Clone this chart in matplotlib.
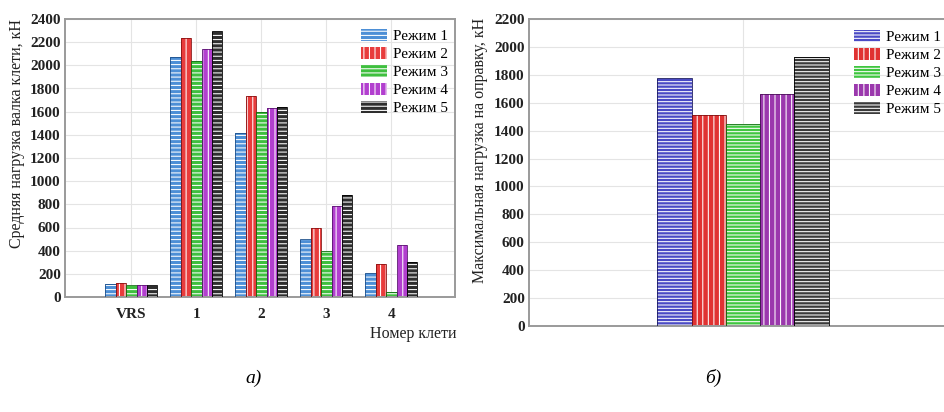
import matplotlib
matplotlib.use("Agg")
import matplotlib.pyplot as plt
import numpy as np

# ---- data ----
stands = ['VRS', '1', '2', '3', '4']
modes = ['Режим 1', 'Режим 2', 'Режим 3', 'Режим 4', 'Режим 5']
mode1 = [110, 2070, 1420, 505, 205]
mode2 = [120, 2235, 1735, 595, 285]
mode3 = [105, 2035, 1595, 400, 45]
mode4 = [105, 2140, 1630, 785, 450]
mode5 = [100, 2300, 1640, 880, 300]
mandrel_max = [1775, 1510, 1450, 1660, 1930]

left_yticks = list(range(0, 2401, 200))
right_yticks = list(range(0, 2201, 200))

plt.rcParams['font.family'] = ['Liberation Serif', 'DejaVu Serif']
plt.rcParams['hatch.linewidth'] = 0.75

W, H = 944, 412
fig = plt.figure(figsize=(W / 100, H / 100), dpi=100)

def ax_rect(l, t, r, b):
    return [l / W, 1 - b / H, (r - l) / W, (b - t) / H]

left_colors = ['#4d8fd6', '#e83c3c', '#3fbf3f', '#b23fcf', '#2e2e2e']
left_edges = ['#1d4f8a', '#8a1010', '#157015', '#5a1470', '#000000']
right_colors = ['#4a4ac4', '#e03232', '#3fc63f', '#9b38ad', '#3a3a3a']
right_edges = ['#18185e', '#801010', '#137013', '#4a1058', '#000000']
hatch_l = ['----', '|||', '----', '|||', '----']
hatch_r = ['-----', '|||', '-----', '|||', '-----']

series = [mode1, mode2, mode3, mode4, mode5]
bw = 0.16
grid_c = '#e4e4e4'
spine_c = '#9a9a9a'

def style_axes(ax):
    for s in ax.spines.values():
        s.set_color(spine_c)
        s.set_linewidth(1.4)
    ax.tick_params(length=0, labelsize=11, pad=3, labelcolor='#222222')
    ax.grid(True, color=grid_c, linewidth=0.8)
    ax.set_axisbelow(True)

def draw_bars(ax, x, vals, color, edge, hatch):
    ax.bar(x, vals, bw, color=color, edgecolor='white', linewidth=0, hatch=hatch, zorder=2)
    ax.bar(x, vals, bw, fill=False, edgecolor=edge, linewidth=0.6, zorder=3)

leg_kw = dict(frameon=False, fontsize=11, borderpad=0, labelspacing=0.24,
              handlelength=1.75, handleheight=0.85)

# ---- left chart ----
axL = fig.add_axes(ax_rect(65, 19, 455, 297))
pos = np.arange(len(stands))
handles = []
for i, vals in enumerate(series):
    draw_bars(axL, pos + (i - 2) * bw, vals, left_colors[i], left_edges[i], hatch_l[i])
    handles.append(matplotlib.patches.Patch(facecolor=left_colors[i], edgecolor='white',
                                            hatch=hatch_l[i], linewidth=0))
axL.set_xlim(-1.02, 4.98)
axL.set_ylim(0, 2400)
axL.set_yticks(left_yticks)
axL.set_xticks(pos)
axL.set_xticklabels(stands)
style_axes(axL)
axL.tick_params(axis='x', pad=8)
for lab in axL.get_yticklabels() + axL.get_xticklabels():
    lab.set_fontweight('bold')
fig.text(413 / W, 1 - 334 / H, 'Номер клети', ha='center', va='center', fontsize=11.5, color='#222222')
fig.text(17 / W, 1 - 133 / H, 'Средняя нагрузка валка клети, кН', rotation=90,
         ha='center', va='center', fontsize=11.5, color='#222222')
fig.legend(handles, modes, loc='upper left', bbox_to_anchor=(353 / W, 1 - 21 / H),
           handletextpad=0.35, **leg_kw)

# ---- right chart ----
axR = fig.add_axes(ax_rect(529, 19, 957, 326))
handlesR = []
for i, v in enumerate(mandrel_max):
    draw_bars(axR, [(i - 2) * bw], [v], right_colors[i], right_edges[i], hatch_r[i])
    handlesR.append(matplotlib.patches.Patch(facecolor=right_colors[i], edgecolor='white',
                                             hatch=hatch_r[i], linewidth=0))
axR.set_xlim(-1, 1)
axR.set_ylim(0, 2200)
axR.set_yticks(right_yticks)
axR.set_xticks([0])
axR.set_xticklabels([''])
style_axes(axR)
for lab in axR.get_yticklabels():
    lab.set_fontweight('bold')
fig.text(480 / W, 1 - 150 / H, 'Максимальная нагрузка на оправку, кН', rotation=90,
         ha='center', va='center', fontsize=11.5, color='#222222')
fig.legend(handlesR, modes, loc='upper left', bbox_to_anchor=(846 / W, 1 - 22 / H),
           handletextpad=0.4, **leg_kw)

# ---- captions ----
fig.text(254 / W, 1 - 378 / H, 'а)', ha='center', va='center', fontsize=14, style='italic')
fig.text(713 / W, 1 - 378 / H, 'б)', ha='center', va='center', fontsize=14, style='italic')

fig.savefig('out.png', dpi=100)
